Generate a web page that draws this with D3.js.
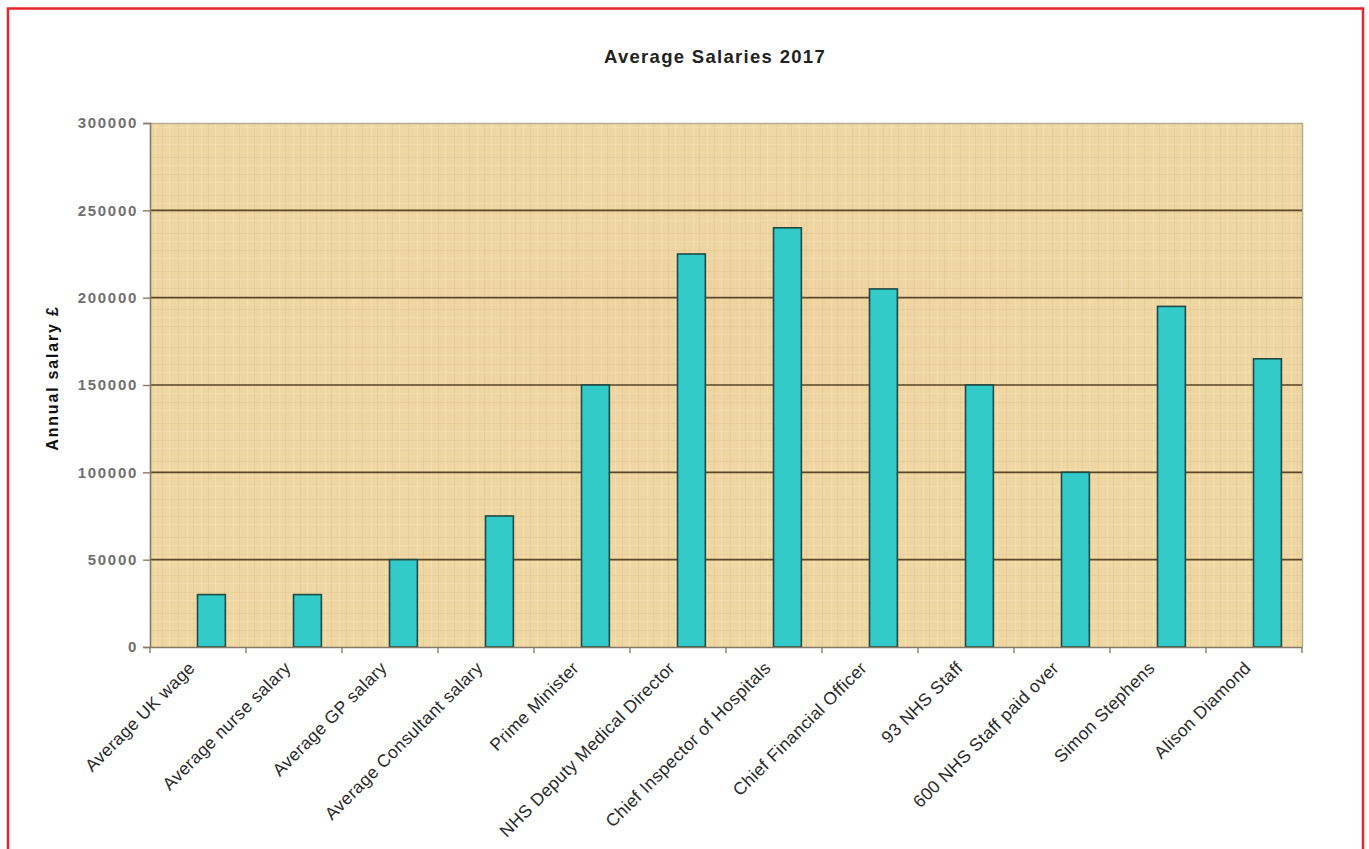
<!DOCTYPE html>
<html>
<head>
<meta charset="utf-8">
<script src="https://cdnjs.cloudflare.com/ajax/libs/d3/7.8.5/d3.min.js"></script>
<style>
	body { margin: 0; background: #fff; }
	svg { display: block; font-family: Arial, "Liberation Sans", sans-serif; }
</style>
</head>
<body>
<div class="container"></div>
<script>
// chart data
var categories = ['Average UK wage', 'Average nurse salary', 'Average GP salary', 'Average Consultant salary',
	'Prime Minister', 'NHS Deputy Medical Director', 'Chief Inspector of Hospitals', 'Chief Financial Officer',
	'93 NHS Staff', '600 NHS Staff paid over', 'Simon Stephens', 'Alison Diamond'];
var salaries = [30000, 30000, 50000, 75000, 150000, 225000, 240000, 205000, 150000, 100000, 195000, 165000];
var yTicks = [0, 50000, 100000, 150000, 200000, 250000, 300000];

var width = 1369, height = 849;
var plotLeft = 150, plotRight = 1302, plotTop = 123, plotBottom = 647;

var svg = d3.select('.container').append('svg').attr('width', width).attr('height', height);

// red frame
svg.append('rect').attr('x', 8).attr('y', 8.5).attr('width', 1355).attr('height', 860)
	.attr('fill', 'none').attr('stroke', '#e8232b').attr('stroke-width', 2.5);

var x = d3.scaleBand().domain(categories).range([plotLeft, plotRight]);
var y = d3.scaleLinear().domain([0, 300000]).range([plotBottom, plotTop]);

// papyrus-like background
var defs = svg.append('defs');
var pat = defs.append('pattern').attr('id', 'papyrus').attr('patternUnits', 'userSpaceOnUse')
	.attr('width', 46).attr('height', 38);
pat.append('rect').attr('width', 46).attr('height', 38).attr('fill', '#efd7a4');
[3, 9, 17, 24, 31, 40].forEach(function(d, i){
	pat.append('rect').attr('x', d).attr('y', 0).attr('width', 1).attr('height', 38)
		.attr('fill', i % 2 ? '#e2c792' : '#f6e3ba').attr('opacity', 0.6);
});
[5, 13, 22, 30].forEach(function(d, i){
	pat.append('rect').attr('x', 0).attr('y', d).attr('width', 46).attr('height', 1)
		.attr('fill', i % 2 ? '#f6e2b8' : '#e1c690').attr('opacity', 0.5);
});
svg.append('rect').attr('x', plotLeft).attr('y', plotTop).attr('width', plotRight - plotLeft).attr('height', plotBottom - plotTop)
	.attr('fill', 'url(#papyrus)');
var glow = defs.append('radialGradient').attr('id', 'warm');
glow.append('stop').attr('offset', '0%').attr('stop-color', '#eab98e').attr('stop-opacity', 0.14);
glow.append('stop').attr('offset', '100%').attr('stop-color', '#eab98e').attr('stop-opacity', 0);
svg.append('ellipse').attr('cx', 700).attr('cy', 330).attr('rx', 480).attr('ry', 190).attr('fill', 'url(#warm)');

// plot top/right border
svg.append('path').attr('d', 'M' + plotLeft + ',' + (plotTop + 0.5) + 'H' + (plotRight + 0.5) + 'V' + plotBottom)
	.attr('fill', 'none').attr('stroke', '#b8ab90').attr('stroke-width', 1.5);

// gridlines
svg.selectAll('.grid').data(yTicks.filter(function(d){ return d > 0 && d < 300000; }))
	.enter().append('line').attr('class', 'grid')
	.attr('x1', plotLeft).attr('x2', plotRight)
	.attr('y1', function(d){ return y(d); }).attr('y2', function(d){ return y(d); })
	.attr('stroke', '#5a4628').attr('stroke-width', 1.6);

// bars
svg.selectAll('.bar').data(salaries).enter().append('rect').attr('class', 'bar')
	.attr('x', function(d, i){ return x(categories[i]) + x.bandwidth() * 0.495; })
	.attr('y', function(d){ return y(d); })
	.attr('width', x.bandwidth() * 0.29)
	.attr('height', function(d){ return plotBottom - y(d); })
	.attr('fill', '#33caca').attr('stroke', '#1e4a42').attr('stroke-width', 1.6);

// y axis
var yAxis = svg.append('g').attr('transform', 'translate(' + plotLeft + ',0)')
	.call(d3.axisLeft(y).tickValues(yTicks).tickSize(7).tickPadding(5).tickFormat(d3.format('d')));
yAxis.select('.domain').attr('stroke', '#857a66').attr('stroke-width', 1.6);
yAxis.selectAll('.tick line').attr('stroke', '#857a66').attr('stroke-width', 1.4);
yAxis.selectAll('.tick text').attr('fill', '#6f6f6f').attr('font-size', 15).attr('font-weight', 'bold')
	.attr('font-family', 'Arial, sans-serif').attr('letter-spacing', 1.7);

// x axis
var xAxis = svg.append('g').attr('transform', 'translate(0,' + plotBottom + ')')
	.call(d3.axisBottom(x).tickSize(0).tickFormat(''));
xAxis.select('.domain').attr('stroke', '#857a66').attr('stroke-width', 1.6);
svg.selectAll('.xtick').data(d3.range(categories.length + 1)).enter().append('line').attr('class', 'xtick')
	.attr('x1', function(i){ return plotLeft + i * x.step(); }).attr('x2', function(i){ return plotLeft + i * x.step(); })
	.attr('y1', plotBottom).attr('y2', plotBottom + 6).attr('stroke', '#857a66').attr('stroke-width', 1.4);

svg.selectAll('.xlabel').data(categories).enter().append('text').attr('class', 'xlabel')
	.attr('transform', function(d){ return 'translate(' + (x(d) + x.bandwidth() / 2 - 2) + ',' + (plotBottom + 22) + ') rotate(-45)'; })
	.attr('text-anchor', 'end').attr('font-size', 17.5).attr('letter-spacing', 0.4).attr('fill', '#2a2a2a')
	.text(function(d){ return d; });

// title
svg.append('text').attr('x', 715).attr('y', 63).attr('text-anchor', 'middle')
	.attr('font-size', 18.5).attr('font-weight', 'bold').attr('letter-spacing', 1.3).attr('fill', '#222')
	.text('Average Salaries 2017');

// y axis title
svg.append('text').attr('transform', 'translate(58,378) rotate(-90)').attr('text-anchor', 'middle')
	.attr('font-size', 16).attr('font-weight', 'bold').attr('letter-spacing', 1.8).attr('fill', '#111')
	.text('Annual salary £');
</script>
</body>
</html>
